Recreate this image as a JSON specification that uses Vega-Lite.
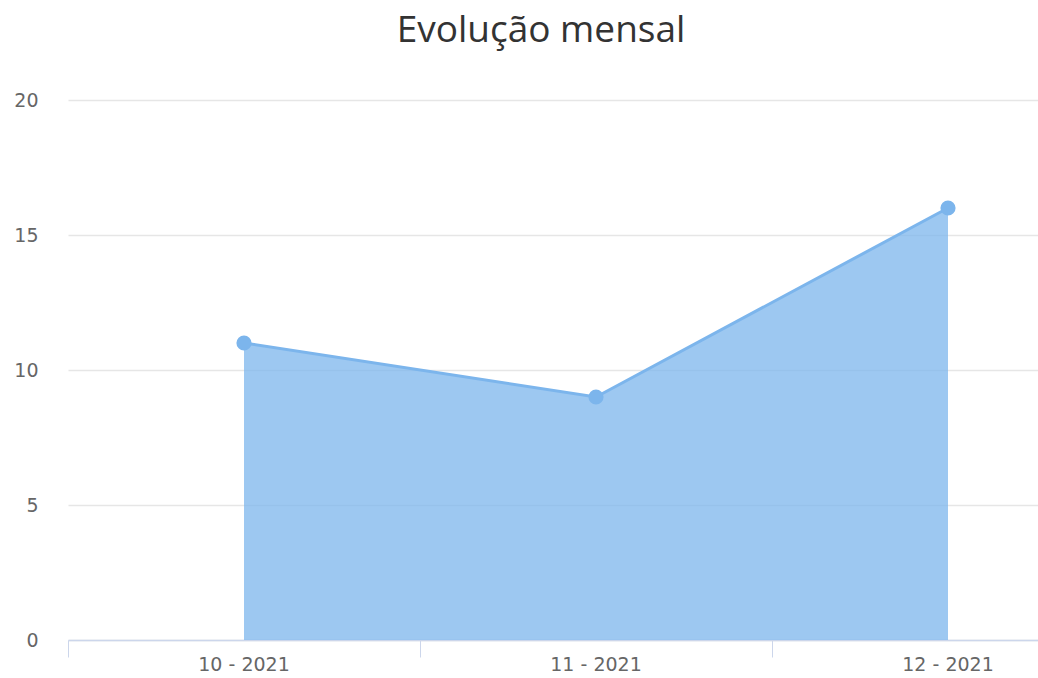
{
  "$schema": "https://vega.github.io/schema/vega-lite/v6.json",
  "autosize": {"type": "none"},
  "width": 970,
  "height": 540,
  "padding": {"left": 68, "top": 100, "right": 0, "bottom": 38},
  "background": "white",
  "title": {
    "text": "Evolução mensal",
    "font": "Open Sans",
    "fontSize": 37,
    "fontWeight": "normal",
    "color": "#333333",
    "anchor": "middle",
    "offset": 41,
    "dx": -12
  },
  "config": {"view": {"stroke": null}},
  "data": {
    "values": [
      {"mes": "10 - 2021", "valor": 11},
      {"mes": "11 - 2021", "valor": 9},
      {"mes": "12 - 2021", "valor": 16}
    ]
  },
  "encoding": {
    "x": {
      "field": "mes",
      "type": "ordinal",
      "sort": null,
      "scale": {"type": "band", "range": [0, 1056], "paddingInner": 0, "paddingOuter": 0},
      "axis": {
        "title": null,
        "labelAngle": 0,
        "bandPosition": 0,
        "labelFont": "DejaVu Sans",
        "labelFontSize": 19,
        "labelColor": "#666666",
        "labelPadding": -2,
        "labelBaseline": "top",
        "tickColor": "#ccd6eb",
        "tickSize": 17,
        "domainColor": "#ccd6eb",
        "domainWidth": 1.5,
        "grid": false
      }
    },
    "y": {
      "field": "valor",
      "type": "quantitative",
      "scale": {"domain": [0, 20], "nice": false},
      "axis": {
        "title": null,
        "values": [0, 5, 10, 15, 20],
        "labelFont": "DejaVu Sans",
        "labelFontSize": 19,
        "labelColor": "#666666",
        "labelPadding": 30,
        "ticks": false,
        "domain": false,
        "gridColor": "#e6e6e6",
        "gridWidth": 1.5
      }
    }
  },
  "layer": [
    {
      "mark": {"type": "area", "color": "#7cb5ec", "opacity": 0.75, "interpolate": "linear"}
    },
    {
      "mark": {"type": "line", "color": "#7cb5ec", "strokeWidth": 3}
    },
    {
      "mark": {"type": "point", "filled": true, "color": "#7cb5ec", "opacity": 1, "size": 230, "shape": "circle"}
    }
  ]
}
